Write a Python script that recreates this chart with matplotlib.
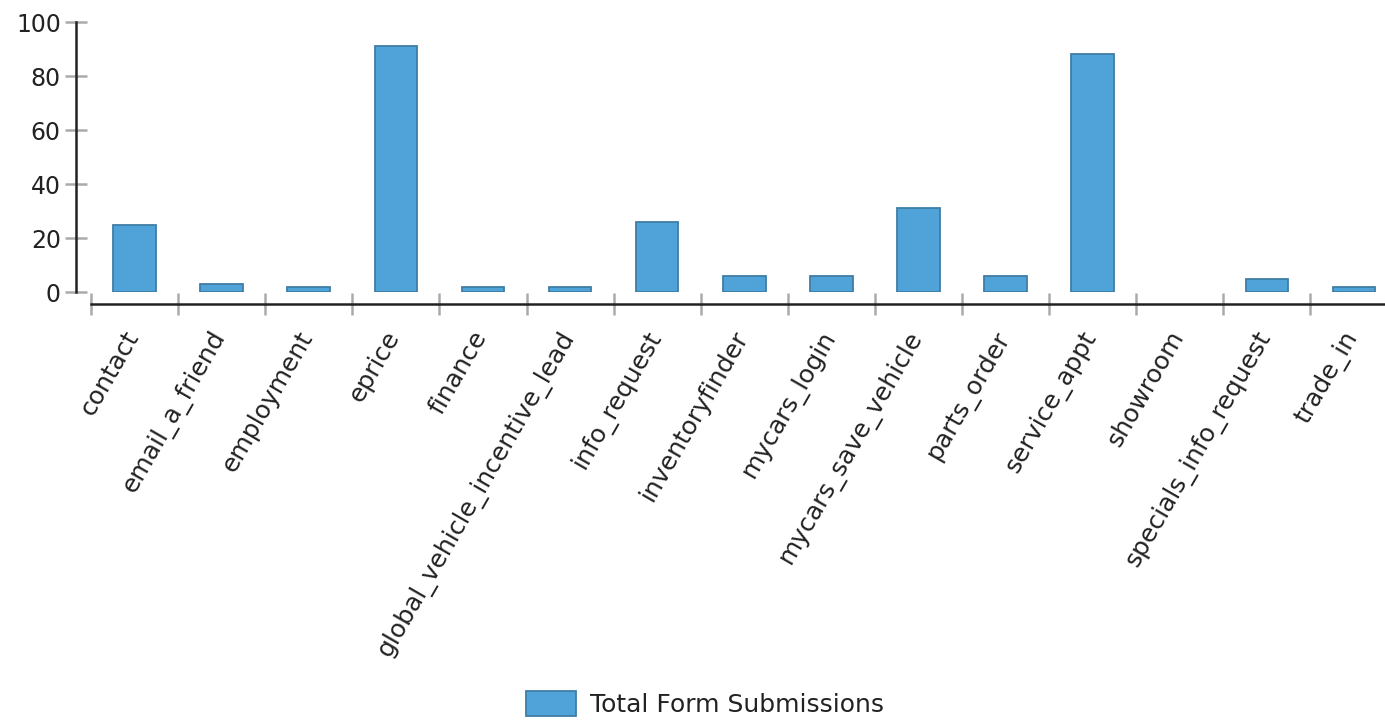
import numpy as np
import matplotlib
matplotlib.use("Agg")
import matplotlib.pyplot as plt
import matplotlib.transforms as mtransforms
from matplotlib.patches import Patch


# ============================================================
# DATA
# ============================================================

categories = [
    "contact", "email_a_friend", "employment", "eprice", "finance",
    "global_vehicle_incentive_lead", "info_request", "inventoryfinder",
    "mycars_login", "mycars_save_vehicle", "parts_order", "service_appt",
    "showroom", "specials_info_request", "trade_in",
]
submissions = [25, 3, 2, 91, 2, 2, 26, 6, 6, 31, 6, 88, 0, 5, 2]
y_ticks = [0, 20, 40, 60, 80, 100]
series_name = "Total Form Submissions"


# ============================================================
# STYLE
# ============================================================

BAR_COLOR = "#50a3d9"
EDGE_COLOR = "#3f7ea6"
AXIS_COLOR = "#222222"
TICK_COLOR = "#aaaaaa"
TEXT_COLOR = "#222222"
FONT_SIZE = 17
XLABEL_SIZE = 18

plt.rcParams["font.family"] = ["DejaVu Sans"]

DPI = 100
fig = plt.figure(figsize=(13.85, 7.2), dpi=DPI)

# pixel layout of the plot area
px_left, px_right = 76, 1385
px_top, px_bottom = 22, 292
ax = fig.add_axes([
    px_left / 1385,
    1 - px_bottom / 720,
    (px_right - px_left) / 1385,
    (px_bottom - px_top) / 720,
])

x = np.arange(len(categories))
edges = [EDGE_COLOR if v > 0 else "none" for v in submissions]
ax.bar(x, submissions, width=0.49, color=BAR_COLOR, edgecolor=edges,
       linewidth=1.3, zorder=3)

# x range: first category edge sits ~15px right of y axis, last one runs off canvas
step = 87.1
x_lo = -0.5 - (91 - px_left) / step
x_hi = -0.5 + (px_right - 91) / step
ax.set_xlim(x_lo, x_hi)
ax.set_ylim(0, 100)

for side in ["top", "right"]:
    ax.spines[side].set_visible(False)

ax.spines["left"].set_color(AXIS_COLOR)
ax.spines["left"].set_linewidth(1.8)
ax.spines["left"].set_bounds(0, 100)

ax.spines["bottom"].set_color(AXIS_COLOR)
ax.spines["bottom"].set_linewidth(1.8)
ax.spines["bottom"].set_position(("outward", 12 * 72 / DPI))
ax.spines["bottom"].set_bounds(-0.5, x_hi)

# y ticks
ax.set_yticks(y_ticks)
ax.tick_params(axis="y", direction="inout", length=22 * 72 / DPI, width=1.8,
               color=TICK_COLOR, labelcolor=TEXT_COLOR, labelsize=FONT_SIZE, pad=3)

# x ticks: marks at category boundaries, labels at centres
ax.set_xticks(np.arange(len(categories)) - 0.5)
ax.set_xticks(x, minor=True)
ax.tick_params(axis="x", which="major", direction="inout", length=22 * 72 / DPI,
               width=1.8, color=TICK_COLOR, labelbottom=False)
ax.tick_params(axis="x", which="minor", length=0, pad=20)
ax.set_xticklabels(categories, minor=True, rotation=60, ha="right",
                   rotation_mode="anchor", fontsize=XLABEL_SIZE, color=TEXT_COLOR)
ax.set_xlim(x_lo, x_hi)

# legend
handle = Patch(facecolor=BAR_COLOR, edgecolor=EDGE_COLOR, linewidth=1.3)
fig.legend([handle], [series_name], loc="center",
           bbox_to_anchor=(705 / 1385, 1 - 704 / 720), frameon=False,
           fontsize=18, handlelength=2.0, handleheight=1.15, handletextpad=0.6,
           labelcolor=TEXT_COLOR)

# nudge rotated labels so their ends sit near the category centre
shift = mtransforms.ScaledTranslation(-12 / DPI, 5 / DPI, fig.dpi_scale_trans)
for lbl in ax.get_xticklabels(minor=True):
    lbl.set_transform(lbl.get_transform() + shift)

fig.savefig("out.png", dpi=DPI)
print("Saved: out.png")
